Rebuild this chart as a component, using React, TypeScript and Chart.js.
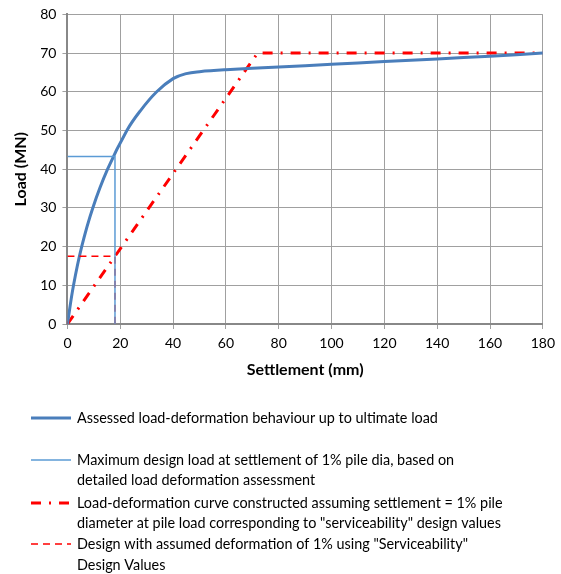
import React, { useEffect, useRef } from "react";
import { Chart, registerables } from "chart.js";

Chart.register(...registerables);

const assessedX = [0, 2.3, 5.4, 9.6, 15.2, 22.5, 27.5, 33.8, 40, 45, 50, 60, 80, 100, 120, 140, 160, 180];
const assessedY = [0, 10, 20, 30, 40, 50, 55, 60, 63.4, 64.7, 65.2, 65.7, 66.4, 67.1, 67.8, 68.5, 69.2, 70];

const maxDesignX = [0, 18, 18];
const maxDesignY = [43.3, 43.3, 0];

const constructedX = [0, 72, 180];
const constructedY = [0, 70, 70];

const serviceX = [0, 18, 18];
const serviceY = [17.5, 17.5, 0];

const xTicks = [0, 20, 40, 60, 80, 100, 120, 140, 160, 180];
const yTicks = [0, 10, 20, 30, 40, 50, 60, 70, 80];

const legendLines = [
  ["Assessed load-deformation behaviour up to ultimate load"],
  ["Maximum design load at settlement of 1% pile dia, based on", "detailed load deformation assessment"],
  ["Load-deformation curve constructed assuming settlement = 1% pile", "diameter at pile load corresponding to \"serviceability\" design values"],
  ["Design with assumed deformation of 1% using \"Serviceability\"", "Design Values"],
];

const zip = (xs: number[], ys: number[]) => xs.map((x, i) => ({ x, y: ys[i] }));

const FONT = "Lato, 'Open Sans', sans-serif";

const BLUE = "#4a7ebb";
const LIGHTBLUE = "#5b9bd5";
const RED = "#ff0000";

const styles = [
  { color: BLUE, width: 3, dash: [] as number[] },
  { color: LIGHTBLUE, width: 1.5, dash: [] as number[] },
  { color: RED, width: 3, dash: [10, 8, 2, 8] },
  { color: RED, width: 1.5, dash: [7, 5] },
];

const legendPlugin = {
  id: "customLegend",
  afterDraw(chart: any) {
    const ctx = chart.ctx as CanvasRenderingContext2D;
    ctx.save();
    ctx.font = `14.4px ${FONT}`;
    ctx.fillStyle = "#000";
    ctx.textBaseline = "middle";
    const rows = [
      [418],
      [460, 480],
      [503, 523],
      [544, 565],
    ];
    rows.forEach((ys, i) => {
      const s = styles[i];
      ctx.beginPath();
      ctx.strokeStyle = s.color;
      ctx.lineWidth = s.width;
      ctx.setLineDash(s.dash);
      ctx.moveTo(31, ys[0]);
      ctx.lineTo(71, ys[0]);
      ctx.stroke();
      ctx.setLineDash([]);
      ys.forEach((y, j) => {
        ctx.fillText(legendLines[i][j], 77, y);
      });
    });
    ctx.restore();
  },
};

export default function App() {
  const ref = useRef<HTMLCanvasElement>(null);
  useEffect(() => {
    if (!ref.current) return;
    const chart = new Chart(ref.current, {
      type: "line",
      data: {
        datasets: [
          {
            label: legendLines[1].join(" "),
            data: zip(maxDesignX, maxDesignY),
            borderColor: LIGHTBLUE,
            borderWidth: 1.5,
            pointRadius: 0,
            tension: 0,
          },
          {
            label: legendLines[3].join(" "),
            data: zip(serviceX, serviceY),
            borderColor: RED,
            borderWidth: 1.5,
            borderDash: [7, 5],
            pointRadius: 0,
            tension: 0,
          },
          {
            label: legendLines[0].join(" "),
            data: zip(assessedX, assessedY),
            borderColor: BLUE,
            borderWidth: 3,
            pointRadius: 0,
            tension: 0.4,
          },
          {
            label: legendLines[2].join(" "),
            data: zip(constructedX, constructedY),
            borderColor: RED,
            borderWidth: 3,
            borderDash: [10, 8, 2, 8],
            pointRadius: 0,
            tension: 0,
          },
        ],
      },
      options: {
        animation: false,
        responsive: false,
        layout: { padding: { left: 7, right: 2, top: 9, bottom: 191 } },
        plugins: { legend: { display: false }, tooltip: { enabled: false } },
        scales: {
          x: {
            type: "linear",
            min: 0,
            max: 180,
            afterBuildTicks: (s: any) => {
              s.ticks = xTicks.map((v) => ({ value: v }));
            },
            ticks: { font: { family: FONT, size: 14 }, color: "#000", padding: 6 },
            grid: { color: "#a0a0a0", lineWidth: 1, drawTicks: true, tickLength: 5, tickColor: "#a0a0a0" },
            border: { color: "#888", width: 2 },
            title: {
              display: true,
              text: "Settlement (mm)",
              font: { family: FONT, size: 16, weight: "bold" },
              color: "#000",
              padding: { top: 2 },
            },
          },
          y: {
            type: "linear",
            min: 0,
            max: 80,
            afterBuildTicks: (s: any) => {
              s.ticks = yTicks.map((v) => ({ value: v }));
            },
            ticks: { font: { family: FONT, size: 14 }, color: "#000", padding: 6 },
            grid: { color: "#a0a0a0", lineWidth: 1, drawTicks: true, tickLength: 5, tickColor: "#a0a0a0" },
            border: { color: "#888", width: 2 },
            title: {
              display: true,
              text: "Load (MN)",
              font: { family: FONT, size: 16, weight: "bold" },
              color: "#000",
              padding: { bottom: 4 },
            },
          },
        },
      },
      plugins: [legendPlugin],
    } as any);
    return () => chart.destroy();
  }, []);
  return (
    <canvas
      ref={ref}
      width={561}
      height={574}
      style={{ position: "fixed", left: 0, top: 0, width: 561, height: 574, background: "#fff" }}
    />
  );
}
